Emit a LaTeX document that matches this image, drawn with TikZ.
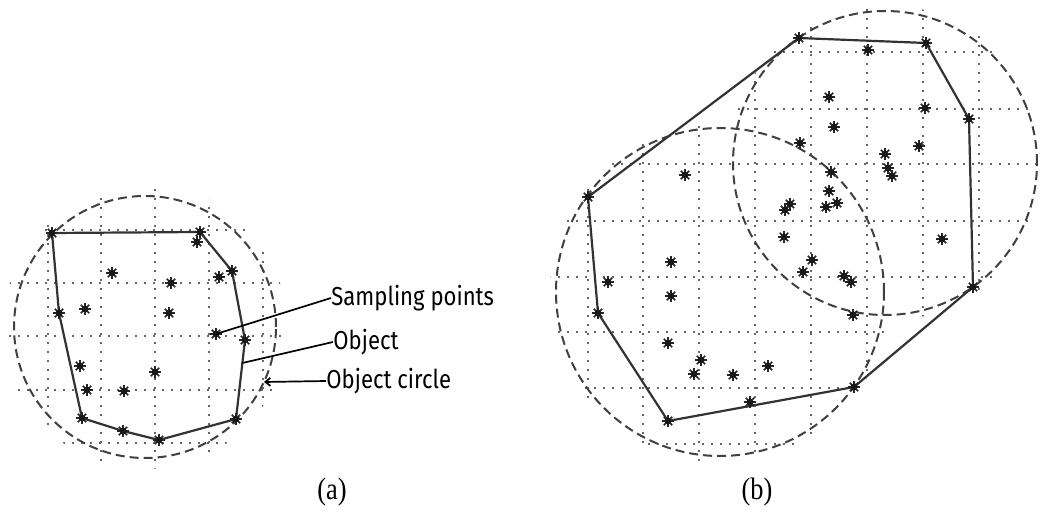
\documentclass[tikz,border=0pt]{standalone}
\usepackage{fontspec}
\newfontfamily\lblfont[FakeStretch=0.85]{Fira Sans}
\newfontfamily\captfont[FakeStretch=0.85]{Liberation Serif}
\usetikzlibrary{arrows.meta,positioning}

\tikzset{
  gridln/.style={black!60,line width=1pt,dash pattern=on 1pt off 3.5pt},
  objcirc/.style={black!75,line width=1pt,dash pattern=on 4.5pt off 2.5pt},
  hull/.style={black!80,line width=1.1pt,line join=round},
  lead/.style={black,line width=0.85pt},
  lbl/.style={anchor=west,inner sep=0pt,font=\lblfont\fontsize{13}{15}\selectfont},
  capt/.style={inner sep=0pt,font=\captfont\fontsize{15.5}{18}\selectfont},
  sampstar/.pic={
    \foreach \a in {0,45,90,135}
      \draw[black!85,line width=0.75pt] (\a:3pt) -- (\a+180:3pt);
    \fill[black!90] (0,0) circle (1.7pt);
  }
}

\begin{document}
\begin{tikzpicture}[x=0.5pt,y=-0.5pt]
\useasboundingbox (0,0) rectangle (1041,514);

% (a) single object
\begin{scope}
\clip (145,327) circle [radius=71pt];
\foreach \gx in {48,101,155,209,263} \draw[gridln] (\gx,180) -- (\gx,475);
\foreach \gy in {230,283,336,390,443} \draw[gridln] (0,\gy) -- (290,\gy);
\end{scope}
\draw[objcirc] (145,327) circle [radius=65.5pt];
\draw[hull] (52,233) -- (200,232) -- (232,271) -- (245,340) -- (236,419) -- (159,440) -- (123,431) -- (82,418) -- (59,313) -- cycle;
\foreach \x/\y in {52/233,200/232,232/271,245/340,236/419,159/440,123/431,82/418,59/313,
  197/242,112/273,219/277,171/283,85/309,169/313,216/334,80/366,155/372,87/390,124/391}
  \pic at (\x,\y) {sampstar};

\coordinate (sp) at (216,334);
\coordinate (objpt) at (242.4,363);
\coordinate (circpt) at (264,382);
\node[lbl] (samplbl) at (331,298) {Sampling points};
\node[lbl] (objlbl) at (333,342) {Object};
\node[lbl] (circlbl) at (326,381) {Object circle};
\draw[lead] (sp) -- (samplbl.west);
\draw[lead] (objpt) -- (objlbl.west);
\draw[lead,{Straight Barb[length=2.5pt,width=4pt]}-] (circpt) -- (circlbl.west);

% (b) two overlapping objects
\begin{scope}
\clip (720,292) circle [radius=85pt] (885,163) circle [radius=79pt];
\foreach \gx in {588,643,699,755,811,867,923,979} \draw[gridln] (\gx,0) -- (\gx,470);
\foreach \gy in {52,109,164,221,277,332,388,444} \draw[gridln] (540,\gy) -- (1041,\gy);
\end{scope}
\draw[objcirc] (720,292) circle [radius=82pt];
\draw[objcirc] (885,163) circle [radius=76pt];
\draw[hull] (799,38) -- (926,43) -- (969,119) -- (973,287) -- (854,387) -- (668,421) -- (598,313) -- (588,197) -- cycle;
\foreach \x/\y in {799/38,926/43,969/119,973/287,854/387,668/421,598/313,588/197,750/402,
  868/50,829/97,925/108,834/127,800/143,919/146,885/154,888/168,892/176,831/172,829/191,
  790/204,785/210,826/207,837/203,784/237,942/239,812/260,803/272,844/276,851/282,853/315,
  685/175,671/262,608/282,671/296,668/343,701/360,694/374,733/375,768/366}
  \pic at (\x,\y) {sampstar};

\node[capt] (capa) at (332,492) {(a)};
\node[capt] (capb) at (757,492) {(b)};
\end{tikzpicture}
\end{document}
